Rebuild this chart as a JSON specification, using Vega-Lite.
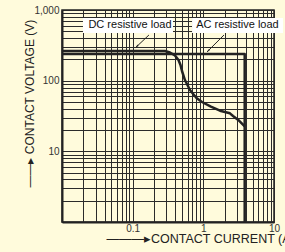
{
  "$schema": "https://vega.github.io/schema/vega-lite/v6.json",
  "width": 212,
  "height": 212,
  "autosize": {"type": "none"},
  "padding": {"left": 62, "top": 10, "right": 11, "bottom": 30},
  "background": "#FFFBDC",
  "config": {
    "view": {"stroke": "#222222", "strokeWidth": 1.5, "fill": "#FFFBDC"},
    "font": "Liberation Sans"
  },
  "datasets": {
    "curves": [
      {"series": "DC", "i": 0, "current": 0.01, "voltage": 263},
      {"series": "DC", "i": 1, "current": 0.287, "voltage": 263},
      {"series": "DC", "i": 2, "current": 0.337, "voltage": 250},
      {"series": "DC", "i": 3, "current": 0.397, "voltage": 227},
      {"series": "DC", "i": 4, "current": 0.445, "voltage": 196},
      {"series": "DC", "i": 5, "current": 0.475, "voltage": 167},
      {"series": "DC", "i": 6, "current": 0.499, "voltage": 137},
      {"series": "DC", "i": 7, "current": 0.549, "voltage": 102},
      {"series": "DC", "i": 8, "current": 0.647, "voltage": 73.8},
      {"series": "DC", "i": 9, "current": 0.8, "voltage": 56.9},
      {"series": "DC", "i": 10, "current": 0.957, "voltage": 49.9},
      {"series": "DC", "i": 11, "current": 1.28, "voltage": 42.8},
      {"series": "DC", "i": 12, "current": 1.72, "voltage": 37.6},
      {"series": "DC", "i": 13, "current": 2.38, "voltage": 34.5},
      {"series": "DC", "i": 14, "current": 2.63, "voltage": 31.6},
      {"series": "DC", "i": 15, "current": 3.12, "voltage": 27.8},
      {"series": "DC", "i": 16, "current": 3.85, "voltage": 22.5},
      {"series": "AC", "i": 0, "current": 0.01, "voltage": 238},
      {"series": "AC", "i": 1, "current": 3.85, "voltage": 238},
      {"series": "AC", "i": 2, "current": 3.85, "voltage": 1}
    ],
    "boxes": [
      {"label": "DC resistive load", "current": 0.0198, "current2": 0.372, "voltage": 472, "voltage2": 771},
      {"label": "AC resistive load", "current": 0.692, "current2": 13.4, "voltage": 472, "voltage2": 771}
    ],
    "labels": [
      {"label": "DC resistive load", "current": 0.0916, "voltage": 614},
      {"label": "AC resistive load", "current": 3.04, "voltage": 614}
    ],
    "arrows": [
      {"label": "DC", "current": 0.17, "voltage": 443, "current2": 0.111, "voltage2": 296},
      {"label": "AC", "current": 1.96, "voltage": 443, "current2": 1.127, "voltage2": 255}
    ],
    "heads": [
      {"label": "DC", "current": 0.111, "voltage": 296},
      {"label": "AC", "current": 1.127, "voltage": 255}
    ]
  },
  "encoding": {
    "x": {
      "field": "current",
      "type": "quantitative",
      "scale": {"type": "log", "domain": [0.01, 10], "nice": false},
      "axis": {
        "values": [0.01, 0.02, 0.03, 0.04, 0.05, 0.06, 0.07, 0.08, 0.09, 0.1, 0.2, 0.3, 0.4, 0.5, 0.6, 0.7, 0.8, 0.9, 1, 2, 3, 4, 5, 6, 7, 8, 9, 10],
        "labelExpr": "datum.value == 0.1 ? '0.1' : datum.value == 1 ? '1' : datum.value == 10 ? '10' : ''",
        "grid": true,
        "gridColor": "#2b2b2b",
        "gridWidth": 1,
        "ticks": false,
        "domainColor": "#222222",
        "domainWidth": 2,
        "labelFont": "Liberation Sans",
        "labelFontSize": 10,
        "labelColor": "#333333",
        "labelPadding": 1,
        "labelOverlap": false,
        "labelFlush": false,
        "labelBound": false,
        "title": "———▸CONTACT CURRENT (A)",
        "titleFont": "Liberation Sans",
        "titleFontSize": 12.5,
        "titleFontWeight": "normal",
        "titleColor": "#222222",
        "titleAnchor": "start",
        "titleAlign": "left",
        "titleX": 44,
        "titleY": 20,
        "titleBaseline": "alphabetic"
      }
    },
    "y": {
      "field": "voltage",
      "type": "quantitative",
      "scale": {"type": "log", "domain": [1, 1000], "nice": false},
      "axis": {
        "values": [1, 2, 3, 4, 5, 6, 7, 8, 9, 10, 20, 30, 40, 50, 60, 70, 80, 90, 100, 200, 300, 400, 500, 600, 700, 800, 900, 1000],
        "labelExpr": "datum.value == 1000 ? '1,000' : datum.value == 100 ? '100' : datum.value == 10 ? '10' : ''",
        "grid": true,
        "gridColor": "#2b2b2b",
        "gridWidth": 1,
        "ticks": false,
        "domainColor": "#222222",
        "domainWidth": 2,
        "labelFont": "Liberation Sans",
        "labelFontSize": 10,
        "labelColor": "#333333",
        "labelPadding": 3,
        "labelOverlap": false,
        "labelFlush": false,
        "labelBound": false,
        "title": "——▸ CONTACT VOLTAGE (V)",
        "titleFont": "Liberation Sans",
        "titleFontSize": 12,
        "titleFontWeight": "normal",
        "titleColor": "#222222",
        "titleAngle": 270,
        "titleAnchor": "start",
        "titleAlign": "left",
        "titleX": -29,
        "titleY": 177,
        "titleBaseline": "alphabetic"
      }
    }
  },
  "layer": [
    {
      "data": {"name": "curves"},
      "mark": {"type": "line", "strokeWidth": 2.5, "color": "#222222", "strokeJoin": "round", "strokeCap": "butt"},
      "encoding": {
        "detail": {"field": "series", "type": "nominal"},
        "order": {"field": "i", "type": "quantitative"}
      }
    },
    {
      "data": {"name": "boxes"},
      "mark": {"type": "rect", "fill": "#ffffff", "stroke": null},
      "encoding": {
        "x2": {"field": "current2"},
        "y2": {"field": "voltage2"}
      }
    },
    {
      "data": {"name": "labels"},
      "mark": {"type": "text", "font": "Liberation Sans", "fontSize": 11, "color": "#111111", "align": "center", "baseline": "middle"},
      "encoding": {
        "text": {"field": "label", "type": "nominal"}
      }
    },
    {
      "data": {"name": "arrows"},
      "mark": {"type": "rule", "strokeWidth": 1, "color": "#222222"},
      "encoding": {
        "x2": {"field": "current2"},
        "y2": {"field": "voltage2"}
      }
    },
    {
      "data": {"name": "heads"},
      "mark": {"type": "point", "shape": "M0,0L0.6,2L-0.6,2Z", "filled": true, "color": "#222222", "opacity": 1, "size": 9, "angle": 225},
      "encoding": {}
    }
  ]
}
